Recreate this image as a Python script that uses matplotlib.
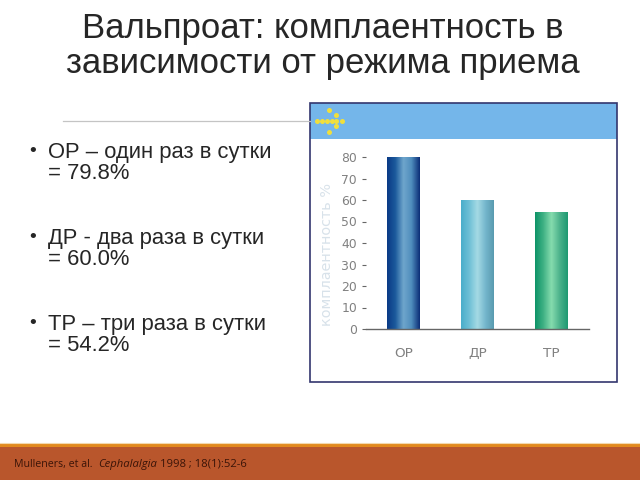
import numpy as np
import matplotlib
matplotlib.use('Agg')
import matplotlib.pyplot as plt
from matplotlib.patches import Rectangle
from matplotlib.colors import LinearSegmentedColormap

categories = ['ОР', 'ДР', 'ТР']
values = [79.8, 60.0, 54.2]
yticks = [0, 10, 20, 30, 40, 50, 60, 70, 80]
title = 'Вальпроат: комплаентность в\nзависимости от режима приема'
bullets = [
    ('ОР – один раз в сутки\n= 79.8%', 150),
    ('ДР - два раза в сутки\n= 60.0%', 236),
    ('ТР – три раза в сутки\n= 54.2%', 322),
]
gradients = [
    ['#0a3a86', '#1c5a9c', '#6fa6cc', '#4f8dbd', '#0c2f78'],
    ['#4aaecb', '#6fc0d6', '#a5dae4', '#74b6cc', '#5a9bb0'],
    ['#0e9468', '#3fb184', '#86dcae', '#4cb38c', '#1f9a72'],
]

W, H = 640, 480
plt.rcParams['font.family'] = ['Liberation Sans', 'DejaVu Sans']
fig = plt.figure(figsize=(6.4, 4.8), dpi=100, facecolor='white')
bg = fig.add_axes([0, 0, 1, 1])
bg.set_xlim(0, W)
bg.set_ylim(H, 0)
bg.axis('off')

# footer band
bg.add_patch(Rectangle((0, 443), W, 5, fc='#e28a1e', ec='none'))
bg.add_patch(Rectangle((0, 447), W, 33, fc='#b9562c', ec='none'))
bg.plot([0, W], [443, 443], color='#f3d9b0', lw=0.8)
bg.text(14, 464.5, 'Mulleners, et al.', fontsize=7.7, color='#3a1408', va='center',
        family=['Open Sans', 'DejaVu Sans'])
bg.text(98, 464.5, 'Cephalalgia', fontsize=8.1, color='#3a1408', va='center', style='italic',
        family=['Open Sans', 'DejaVu Sans'])
bg.text(160, 464.5, '1998 ; 18(1):52-6', fontsize=8.1, color='#3a1408', va='center',
        family=['Open Sans', 'DejaVu Sans'])

# title and bullets
bg.text(323, 46, title, fontsize=25, color='#262626', ha='center', va='center', linespacing=1.09)
bg.plot([63, 310], [121, 121], color='#c4c4c4', lw=0.9)
for text, y in bullets:
    bg.text(48, y + 13, text, fontsize=15.8, color='#262626', va='center', linespacing=1.0)
    bg.text(33, y + 1, '•', fontsize=14, color='#262626', va='center', ha='center')

# panel
bg.add_patch(Rectangle((310, 103), 307, 36, fc='#74b6ea', ec='none'))
bg.add_patch(Rectangle((310, 103), 307, 279, fc='none', ec='#33366e', lw=1.2))
arrow_x = [317, 322, 327, 332, 336, 342, 336, 336, 329, 329]
arrow_y = [121, 121, 121, 121, 121, 121, 115, 126, 110, 132]
bg.scatter(arrow_x, arrow_y, s=13, color='#f0df3c', linewidths=0)

# chart axes: pixel box 366..589, y 157..329
ax = fig.add_axes([366 / W, 1 - 329 / H, (589 - 366) / W, (329 - 157) / H])
ax.patch.set_alpha(0)
width = 33 / 74
bars = ax.bar(range(3), values, width=width, color='none')
for bar, g in zip(bars, gradients):
    cmap = LinearSegmentedColormap.from_list('g', g)
    x0, w, h = bar.get_x(), bar.get_width(), bar.get_height()
    ax.imshow(np.linspace(0, 1, 64)[None, :], cmap=cmap, aspect='auto',
              extent=(x0, x0 + w, 0, h), zorder=2)
ax.set_xlim(-0.507, 2.507)
ax.set_ylim(0, 80)
ax.set_xticks(range(3), categories)
ax.set_yticks(yticks)
for s in ('top', 'right', 'left'):
    ax.spines[s].set_visible(False)
ax.spines['bottom'].set_color('#666666')
ax.spines['bottom'].set_linewidth(1.0)
ax.tick_params(axis='y', length=3, width=0.8, color='#666666', labelcolor='#808080',
               labelsize=8.9, pad=3.5, labelfontfamily='DejaVu Sans')
ax.tick_params(axis='x', length=0, labelcolor='#808080', labelsize=9.7, pad=13,
               labelfontfamily='DejaVu Sans')
ax.set_ylabel('комплаентность %', fontsize=10.4, color='#d8e2ea', family='DejaVu Sans',
              va='center')
ax.yaxis.set_label_coords((327 - 366) / (589 - 366), 0.433)

fig.savefig('out.png', dpi=100)
